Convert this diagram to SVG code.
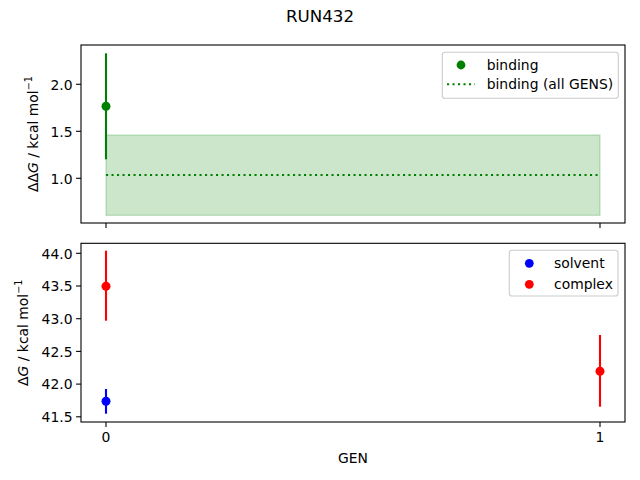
<svg xmlns="http://www.w3.org/2000/svg" width="640" height="480" viewBox="0 0 640 480">
<style>
text{font-family:"DejaVu Sans",sans-serif;font-size:13.9px;fill:#000}
.spine{fill:none;stroke:#000;stroke-width:1.1}
.tick{stroke:#000;stroke-width:1.1}
.yl{text-anchor:end}
.xl{text-anchor:middle}
.eb{stroke-width:2.1;fill:none}
.leg{fill:#fff;fill-opacity:0.8;stroke:#ccc;stroke-width:1.1}
</style>
<rect width="640" height="480" fill="#fff"/>
<text x="320" y="22" text-anchor="middle" style="font-size:16.7px">RUN432</text>

<g id="top-axes">
<rect x="106" y="135" width="494" height="80.3" fill="#008000" fill-opacity="0.2" stroke="#008000" stroke-opacity="0.2" stroke-width="1.4"/>
<line x1="106" y1="175" x2="600" y2="175" stroke="#008000" stroke-width="2.1" stroke-dasharray="2.1 3.4"/>
<line class="eb" x1="106" y1="53.3" x2="106" y2="159.3" stroke="#008000"/>
<circle cx="106" cy="106.3" r="4.5" fill="#008000"/>
<rect class="spine" x="81" y="45" width="544" height="178"/>
<line class="tick" x1="81" y1="84.3" x2="76.1" y2="84.3"/>
<line class="tick" x1="81" y1="131.3" x2="76.1" y2="131.3"/>
<line class="tick" x1="81" y1="178.3" x2="76.1" y2="178.3"/>
<line class="tick" x1="106" y1="223" x2="106" y2="227.9"/>
<line class="tick" x1="600" y1="223" x2="600" y2="227.9"/>
<text class="yl" x="72.5" y="89.5">2.0</text>
<text class="yl" x="72.5" y="136.5">1.5</text>
<text class="yl" x="72.5" y="183.5">1.0</text>
<text transform="translate(38,134) rotate(-90)" text-anchor="middle">ΔΔ<tspan font-style="italic">G</tspan> / kcal mol<tspan baseline-shift="6" style="font-size:9.7px">−1</tspan></text>
</g>
<g id="top-legend">
<rect class="leg" x="442.3" y="52.3" width="176" height="46" rx="2.8"/>
<circle cx="461" cy="65" r="4.4" fill="#008000"/>
<text x="486.7" y="69.8">binding</text>
<line x1="447" y1="84.3" x2="475" y2="84.3" stroke="#008000" stroke-width="2.1" stroke-dasharray="2.1 3.4"/>
<text x="486.7" y="89.3">binding (all GENS)</text>
</g>

<g id="bottom-axes">
<line class="eb" x1="106" y1="250.7" x2="106" y2="320.7" stroke="#ff0000"/>
<circle cx="106" cy="286.3" r="4.5" fill="#ff0000"/>
<line class="eb" x1="106" y1="389" x2="106" y2="413.7" stroke="#0000ff"/>
<circle cx="106" cy="401.3" r="4.5" fill="#0000ff"/>
<line class="eb" x1="600" y1="335" x2="600" y2="406.7" stroke="#ff0000"/>
<circle cx="600" cy="371.3" r="4.5" fill="#ff0000"/>
<rect class="spine" x="81" y="243.3" width="544" height="178.7"/>
<line class="tick" x1="81" y1="253.3" x2="76.1" y2="253.3"/>
<line class="tick" x1="81" y1="286" x2="76.1" y2="286"/>
<line class="tick" x1="81" y1="318.7" x2="76.1" y2="318.7"/>
<line class="tick" x1="81" y1="351.4" x2="76.1" y2="351.4"/>
<line class="tick" x1="81" y1="384.1" x2="76.1" y2="384.1"/>
<line class="tick" x1="81" y1="416.8" x2="76.1" y2="416.8"/>
<text class="yl" x="72.5" y="258.5">44.0</text>
<text class="yl" x="72.5" y="291.2">43.5</text>
<text class="yl" x="72.5" y="323.9">43.0</text>
<text class="yl" x="72.5" y="356.6">42.5</text>
<text class="yl" x="72.5" y="389.3">42.0</text>
<text class="yl" x="72.5" y="422">41.5</text>
<line class="tick" x1="106" y1="422" x2="106" y2="426.9"/>
<line class="tick" x1="600" y1="422" x2="600" y2="426.9"/>
<text class="xl" x="106" y="441.5">0</text>
<text class="xl" x="600" y="441.5">1</text>
<text class="xl" x="353" y="462.5">GEN</text>
<text transform="translate(28,332.7) rotate(-90)" text-anchor="middle">Δ<tspan font-style="italic">G</tspan> / kcal mol<tspan baseline-shift="6" style="font-size:9.7px">−1</tspan></text>
</g>
<g id="bottom-legend">
<rect class="leg" x="509.3" y="250.3" width="108.7" height="45.7" rx="2.8"/>
<circle cx="529.3" cy="263.3" r="4.4" fill="#0000ff"/>
<text x="554" y="268">solvent</text>
<circle cx="529.3" cy="284.3" r="4.4" fill="#ff0000"/>
<text x="554" y="289">complex</text>
</g>
</svg>
